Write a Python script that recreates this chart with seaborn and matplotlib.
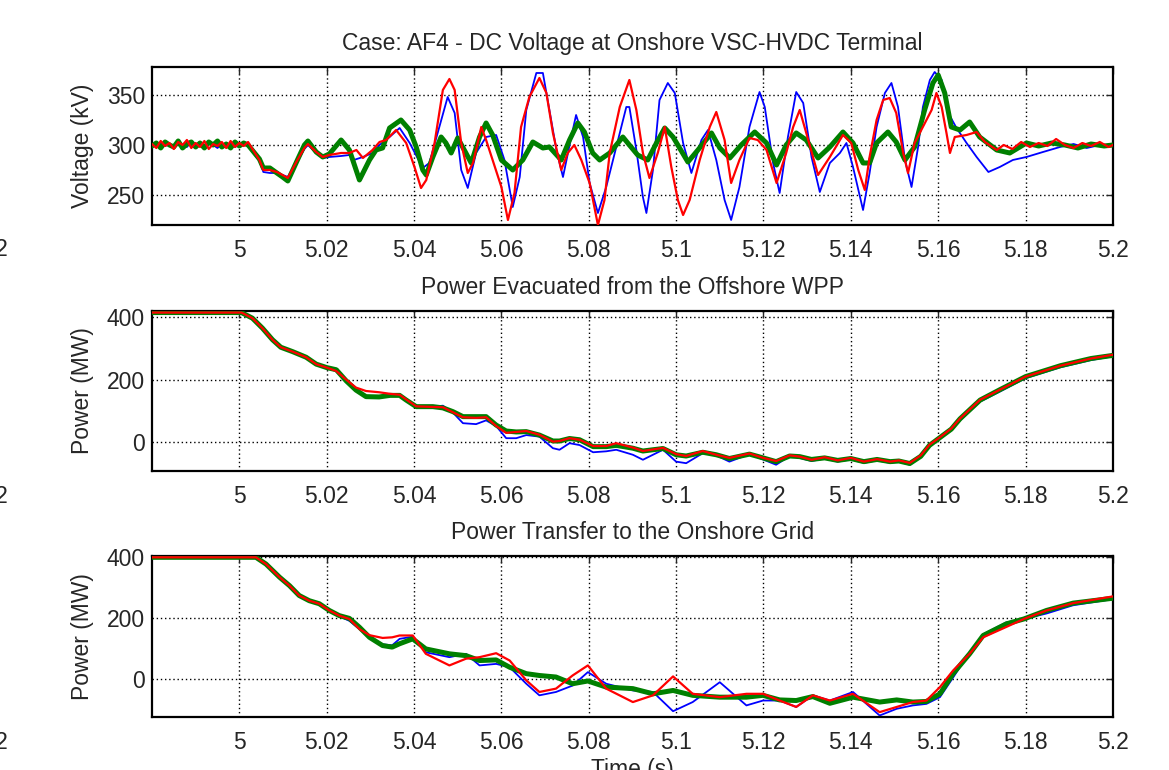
import numpy as np
import seaborn as sns
import matplotlib
matplotlib.use('Agg')
import matplotlib.pyplot as plt

# ---------- data (time s, value) ----------
# DC voltage at onshore terminal (kV)
volt_blue = [(4.980, 300), (4.981, 298), (4.982, 302), (4.983, 299), (4.984, 301), (4.985, 297), (4.986, 302),
             (4.987, 300), (4.988, 298), (4.989, 303), (4.990, 299), (4.991, 301), (4.992, 298), (4.993, 302),
             (4.994, 300), (4.995, 297), (4.996, 301), (4.997, 299), (4.998, 302), (4.999, 298), (5.000, 300),
             (5.001, 301), (5.002, 299), (5.0046, 284), (5.0055, 273), (5.0070, 272), (5.0086, 272), (5.0099, 270),
             (5.0111, 268), (5.0133, 284), (5.0149, 296), (5.0157, 300), (5.0176, 292), (5.0191, 287), (5.0206, 288),
             (5.0233, 289), (5.0252, 290), (5.0262, 285), (5.0283, 288), (5.0305, 292), (5.0321, 300), (5.0344, 308),
             (5.0367, 317), (5.0390, 302), (5.0420, 277), (5.0435, 282), (5.0458, 318), (5.0477, 348), (5.0493, 332),
             (5.0508, 275), (5.0523, 257), (5.0542, 292), (5.0565, 308), (5.0588, 310), (5.0607, 285), (5.0626, 238),
             (5.0642, 268), (5.0657, 335), (5.0680, 372), (5.0695, 372), (5.0710, 335), (5.0726, 295), (5.0741, 268),
             (5.0760, 308), (5.0771, 330), (5.0787, 308), (5.0802, 262), (5.0821, 232), (5.0840, 258), (5.0863, 298),
             (5.0886, 338), (5.0893, 338), (5.0909, 295), (5.0924, 248), (5.0932, 232), (5.0947, 275), (5.0962, 345),
             (5.0981, 362), (5.0997, 352), (5.1016, 302), (5.1035, 272), (5.1058, 305), (5.1073, 315), (5.1092, 285),
             (5.1111, 245), (5.1126, 225), (5.1145, 258), (5.1168, 318), (5.1191, 353), (5.1203, 338), (5.1222, 282),
             (5.1237, 252), (5.1256, 308), (5.1275, 353), (5.1291, 342), (5.1310, 288), (5.1329, 253), (5.1352, 282),
             (5.1375, 292), (5.1390, 302), (5.1405, 278), (5.1428, 235), (5.1443, 272), (5.1459, 318), (5.1478, 352),
             (5.1493, 362), (5.1508, 338), (5.1524, 285), (5.1539, 258), (5.1554, 298), (5.1565, 338), (5.1581, 365),
             (5.1592, 373), (5.1608, 365), (5.1623, 332), (5.1642, 317), (5.1665, 302), (5.1688, 288), (5.1715, 273),
             (5.1741, 278), (5.1771, 285), (5.1802, 288), (5.1840, 293), (5.1879, 298), (5.1910, 301), (5.1940, 297),
             (5.1970, 300), (5.2000, 299)]
volt_green = [(4.980, 299), (4.981, 302), (4.982, 297), (4.983, 303), (4.984, 300), (4.985, 298), (4.986, 304),
              (4.987, 297), (4.988, 301), (4.989, 303), (4.990, 298), (4.991, 302), (4.992, 297), (4.993, 303),
              (4.994, 300), (4.995, 304), (4.996, 298), (4.997, 301), (4.998, 297), (4.999, 303), (5.000, 299),
              (5.001, 302), (5.002, 300), (5.0046, 286), (5.0055, 277), (5.0070, 277), (5.0086, 272), (5.0099, 268),
              (5.0111, 264), (5.0133, 285), (5.0149, 300), (5.0157, 304), (5.0176, 293), (5.0191, 288), (5.0206, 291),
              (5.0233, 305), (5.0252, 295), (5.0275, 265), (5.0298, 285), (5.0313, 295), (5.0328, 297), (5.0344, 317),
              (5.0370, 325), (5.0390, 315), (5.0405, 298), (5.0420, 275), (5.0428, 270), (5.0443, 288), (5.0462, 308),
              (5.0473, 302), (5.0485, 292), (5.0500, 307), (5.0515, 295), (5.0531, 282), (5.0550, 308), (5.0565, 322),
              (5.0580, 310), (5.0600, 285), (5.0626, 275), (5.0649, 285), (5.0672, 303), (5.0695, 297), (5.0710, 298),
              (5.0737, 285), (5.0756, 305), (5.0775, 322), (5.0790, 313), (5.0809, 292), (5.0825, 285), (5.0848, 292),
              (5.0878, 308), (5.0893, 300), (5.0912, 290), (5.0935, 285), (5.0955, 302), (5.0974, 317), (5.0993, 308),
              (5.1027, 283), (5.1050, 295), (5.1081, 312), (5.1100, 297), (5.1123, 287), (5.1149, 300), (5.1180, 313),
              (5.1207, 302), (5.1230, 280), (5.1252, 300), (5.1275, 312), (5.1298, 305), (5.1325, 287), (5.1352, 298),
              (5.1382, 313), (5.1405, 302), (5.1428, 282), (5.1443, 282), (5.1459, 302), (5.1485, 313), (5.1504, 303),
              (5.1524, 285), (5.1546, 298), (5.1569, 335), (5.1588, 362), (5.1600, 370), (5.1615, 352), (5.1630, 318),
              (5.1650, 315), (5.1672, 323), (5.1695, 308), (5.1734, 295), (5.1764, 292), (5.1802, 302), (5.1830, 299),
              (5.1860, 302), (5.1890, 300), (5.1920, 297), (5.1950, 301), (5.1980, 299), (5.2000, 300)]
volt_red = [(4.980, 301), (4.981, 297), (4.982, 304), (4.983, 299), (4.984, 302), (4.985, 296), (4.986, 303),
            (4.987, 300), (4.988, 305), (4.989, 297), (4.990, 302), (4.991, 298), (4.992, 304), (4.993, 296),
            (4.994, 301), (4.995, 299), (4.996, 303), (4.997, 297), (4.998, 304), (4.999, 298), (5.000, 302),
            (5.001, 299), (5.002, 303), (5.0046, 285), (5.0055, 275), (5.0070, 275), (5.0086, 273), (5.0099, 270),
            (5.0111, 267), (5.0133, 285), (5.0149, 297), (5.0157, 301), (5.0176, 293), (5.0191, 288), (5.0206, 290),
            (5.0233, 292), (5.0252, 292), (5.0268, 295), (5.0283, 287), (5.0305, 295), (5.0321, 303), (5.0336, 305),
            (5.0359, 315), (5.0382, 302), (5.0401, 278), (5.0416, 257), (5.0428, 265), (5.0447, 302), (5.0466, 355),
            (5.0481, 366), (5.0493, 355), (5.0508, 302), (5.0523, 272), (5.0535, 282), (5.0554, 318), (5.0565, 305),
            (5.0580, 285), (5.0600, 258), (5.0615, 225), (5.0630, 252), (5.0645, 318), (5.0664, 348), (5.0687, 367),
            (5.0703, 352), (5.0718, 312), (5.0737, 275), (5.0752, 292), (5.0767, 300), (5.0783, 285), (5.0802, 262),
            (5.0821, 220), (5.0836, 245), (5.0848, 292), (5.0871, 338), (5.0893, 365), (5.0909, 335), (5.0924, 292),
            (5.0939, 267), (5.0958, 292), (5.0974, 318), (5.0989, 278), (5.1004, 245), (5.1016, 230), (5.1031, 245),
            (5.1054, 285), (5.1077, 318), (5.1092, 333), (5.1111, 305), (5.1126, 262), (5.1145, 285), (5.1168, 307),
            (5.1187, 305), (5.1207, 295), (5.1230, 262), (5.1252, 292), (5.1268, 318), (5.1283, 335), (5.1298, 312),
            (5.1325, 270), (5.1352, 288), (5.1382, 310), (5.1401, 302), (5.1417, 275), (5.1432, 255), (5.1443, 288),
            (5.1459, 325), (5.1474, 345), (5.1489, 347), (5.1504, 332), (5.1520, 292), (5.1531, 272), (5.1546, 302),
            (5.1565, 318), (5.1585, 335), (5.1596, 352), (5.1608, 338), (5.1619, 312), (5.1627, 292), (5.1638, 308),
            (5.1665, 310), (5.1688, 313), (5.1707, 303), (5.1734, 295), (5.1750, 300), (5.1770, 296), (5.1790, 303),
            (5.1810, 298), (5.1830, 302), (5.1850, 299), (5.1870, 306), (5.1890, 300), (5.1910, 297), (5.1930, 302),
            (5.1950, 299), (5.1970, 303), (5.1990, 298), (5.2000, 300)]

# power evacuated from the offshore WPP (MW)
evac_blue = [(4.980, 415), (5.0005, 415), (5.0030, 397), (5.0053, 365), (5.0076, 328), (5.0095, 304), (5.0122, 290),
             (5.0153, 272), (5.0176, 250), (5.0200, 238), (5.0222, 228), (5.0245, 194), (5.0267, 168), (5.0290, 146),
             (5.0320, 146), (5.0345, 150), (5.0367, 150), (5.0382, 134), (5.0405, 113), (5.0443, 114), (5.0466, 117),
             (5.0489, 95), (5.0512, 61), (5.0542, 58), (5.0565, 70), (5.0588, 52), (5.0611, 13), (5.0634, 13),
             (5.0657, 23), (5.0687, 18), (5.0718, -19), (5.0733, -24), (5.0756, -3), (5.0779, -9), (5.0810, -32),
             (5.0840, -29), (5.0863, -24), (5.0901, -40), (5.0924, -56), (5.0970, -24), (5.1000, -62), (5.1023, -67),
             (5.1061, -35), (5.1092, -42), (5.1122, -62), (5.1168, -38), (5.1199, -55), (5.1229, -72), (5.1260, -44),
             (5.1283, -50), (5.1310, -60), (5.1340, -52), (5.1370, -62), (5.1400, -55), (5.1430, -66), (5.1460, -58),
             (5.1490, -66), (5.1510, -62), (5.1535, -72), (5.1560, -48), (5.1580, -12), (5.1604, 12), (5.1630, 38),
             (5.1650, 70), (5.1696, 130), (5.1741, 162), (5.1800, 205), (5.1880, 240), (5.1950, 263), (5.2000, 275)]
evac_green = [(4.980, 415), (5.0005, 415), (5.0030, 397), (5.0053, 365), (5.0076, 328), (5.0095, 304), (5.0122, 290),
              (5.0153, 272), (5.0176, 250), (5.0200, 239), (5.0222, 232), (5.0245, 196), (5.0267, 167), (5.0290, 146),
              (5.0320, 145), (5.0345, 150), (5.0367, 150), (5.0382, 135), (5.0405, 114), (5.0443, 114), (5.0466, 110),
              (5.0489, 98), (5.0512, 82), (5.0542, 82), (5.0565, 82), (5.0588, 55), (5.0611, 36), (5.0634, 33),
              (5.0657, 34), (5.0687, 23), (5.0718, 4), (5.0733, 4), (5.0756, 12), (5.0779, 8), (5.0810, -14),
              (5.0840, -14), (5.0863, -10), (5.0901, -19), (5.0924, -28), (5.0970, -20), (5.1000, -40), (5.1023, -44),
              (5.1061, -32), (5.1092, -40), (5.1122, -52), (5.1168, -38), (5.1199, -50), (5.1229, -62), (5.1260, -44),
              (5.1283, -46), (5.1310, -55), (5.1340, -50), (5.1370, -58), (5.1400, -52), (5.1430, -62), (5.1460, -55),
              (5.1490, -62), (5.1510, -60), (5.1535, -68), (5.1560, -45), (5.1580, -10), (5.1604, 15), (5.1630, 42),
              (5.1650, 75), (5.1696, 135), (5.1741, 168), (5.1800, 210), (5.1880, 245), (5.1950, 268), (5.2000, 278)]
evac_red = [(4.980, 415), (5.0005, 415), (5.0030, 397), (5.0053, 365), (5.0076, 328), (5.0095, 304), (5.0122, 290),
            (5.0153, 272), (5.0176, 250), (5.0200, 239), (5.0222, 228), (5.0245, 200), (5.0267, 175), (5.0290, 164),
            (5.0320, 160), (5.0345, 155), (5.0367, 152), (5.0382, 137), (5.0405, 115), (5.0443, 113), (5.0466, 112),
            (5.0489, 96), (5.0512, 80), (5.0542, 78), (5.0565, 80), (5.0588, 52), (5.0611, 30), (5.0634, 33),
            (5.0657, 36), (5.0687, 24), (5.0718, 2), (5.0733, 4), (5.0756, 13), (5.0779, 8), (5.0810, -12),
            (5.0840, -12), (5.0863, -3), (5.0901, -17), (5.0924, -28), (5.0970, -18), (5.1000, -38), (5.1023, -44),
            (5.1061, -28), (5.1092, -40), (5.1122, -50), (5.1168, -36), (5.1199, -50), (5.1229, -60), (5.1260, -42),
            (5.1283, -46), (5.1310, -56), (5.1340, -48), (5.1370, -58), (5.1400, -50), (5.1430, -62), (5.1460, -54),
            (5.1490, -62), (5.1510, -58), (5.1535, -66), (5.1560, -42), (5.1580, -8), (5.1604, 16), (5.1630, 44),
            (5.1650, 76), (5.1696, 136), (5.1741, 168), (5.1800, 210), (5.1880, 245), (5.1950, 268), (5.2000, 280)]

# power transfer to the onshore grid (MW)
grid_blue = [(4.980, 400), (5.0038, 400), (5.0061, 378), (5.0092, 335), (5.0115, 307), (5.0137, 275), (5.0160, 256),
             (5.0183, 246), (5.0206, 224), (5.0229, 207), (5.0252, 192), (5.0275, 165), (5.0298, 140), (5.0328, 115),
             (5.0350, 112), (5.0367, 133), (5.0397, 140), (5.0427, 89), (5.0481, 73), (5.0519, 84), (5.0550, 46),
             (5.0588, 51), (5.0619, 40), (5.0657, -14), (5.0687, -52), (5.0725, -41), (5.0763, -20), (5.0798, 24),
             (5.0840, -14), (5.0901, -36), (5.0947, -41), (5.0993, -104), (5.1038, -74), (5.1100, -9), (5.1161, -85),
             (5.1199, -69), (5.1237, -69), (5.1275, -90), (5.1313, -52), (5.1352, -69), (5.1405, -41), (5.1466, -118),
             (5.1505, -96), (5.1542, -85), (5.1573, -80), (5.1604, -58), (5.1634, 6), (5.1672, 89), (5.1703, 148),
             (5.1756, 187), (5.1796, 198), (5.1848, 216), (5.1909, 243), (5.2000, 263)]
grid_green = [(4.980, 400), (5.0038, 400), (5.0061, 378), (5.0092, 335), (5.0115, 307), (5.0137, 275), (5.0160, 258),
              (5.0183, 248), (5.0206, 226), (5.0229, 209), (5.0252, 200), (5.0275, 171), (5.0298, 138), (5.0328, 111),
              (5.0350, 106), (5.0367, 117), (5.0397, 133), (5.0427, 100), (5.0481, 84), (5.0519, 78), (5.0550, 62),
              (5.0588, 64), (5.0619, 40), (5.0657, 19), (5.0687, 13), (5.0725, 8), (5.0763, -14), (5.0798, -5),
              (5.0840, -25), (5.0901, -30), (5.0947, -47), (5.0993, -36), (5.1038, -52), (5.1100, -58), (5.1161, -58),
              (5.1199, -52), (5.1237, -67), (5.1275, -69), (5.1313, -56), (5.1352, -78), (5.1405, -58), (5.1466, -74),
              (5.1505, -67), (5.1542, -74), (5.1573, -72), (5.1604, -47), (5.1634, 19), (5.1672, 84), (5.1703, 144),
              (5.1756, 182), (5.1796, 198), (5.1848, 226), (5.1909, 250), (5.2000, 266)]
grid_red = [(4.980, 400), (5.0038, 400), (5.0061, 378), (5.0092, 335), (5.0115, 307), (5.0137, 275), (5.0160, 258),
            (5.0183, 248), (5.0206, 226), (5.0229, 209), (5.0252, 198), (5.0275, 165), (5.0298, 145), (5.0328, 136),
            (5.0350, 138), (5.0367, 144), (5.0397, 144), (5.0427, 84), (5.0481, 46), (5.0519, 68), (5.0550, 73),
            (5.0588, 86), (5.0619, 62), (5.0657, -3), (5.0687, -41), (5.0725, -30), (5.0763, 13), (5.0798, 46),
            (5.0840, -30), (5.0901, -74), (5.0947, -52), (5.0993, 10), (5.1038, -47), (5.1100, -58), (5.1161, -47),
            (5.1199, -47), (5.1237, -69), (5.1275, -90), (5.1313, -52), (5.1352, -69), (5.1405, -47), (5.1466, -107),
            (5.1505, -90), (5.1542, -74), (5.1573, -69), (5.1604, -25), (5.1634, 29), (5.1672, 84), (5.1703, 138),
            (5.1756, 172), (5.1796, 198), (5.1848, 226), (5.1909, 250), (5.2000, 272)]

x_ticks = [5.0, 5.02, 5.04, 5.06, 5.08, 5.10, 5.12, 5.14, 5.16, 5.18, 5.20]
x_labels = ['5', '5.02', '5.04', '5.06', '5.08', '5.1', '5.12', '5.14', '5.16', '5.18', '5.2']

panels = [
    dict(series=(volt_blue, volt_green, volt_red), title='Case: AF4 - DC Voltage at Onshore VSC-HVDC Terminal',
         ylabel='Voltage (kV)', yticks=[250, 300, 350], ylim=(220, 378), rect=[0.130, 0.7078, 0.822, 0.2052]),
    dict(series=(evac_blue, evac_green, evac_red), title='Power Evacuated from the Offshore WPP',
         ylabel='Power (MW)', yticks=[0, 200, 400], ylim=(-92, 420), rect=[0.130, 0.3883, 0.822, 0.2078]),
    dict(series=(grid_blue, grid_green, grid_red), title='Power Transfer to the Onshore Grid',
         ylabel='Power (MW)', yticks=[0, 200, 400], ylim=(-123, 404), rect=[0.130, 0.0688, 0.822, 0.2090]),
]

# ---------- style ----------
sns.set_style('white')
plt.rcParams['font.family'] = ['Liberation Sans', 'DejaVu Sans']
FS = 16.5

line_styles = [('#0000ff', 1.3, 2), ('#008000', 3.6, 3), ('#ff0000', 1.6, 4)]  # blue, green, red

fig = plt.figure(figsize=(11.69, 7.70), dpi=100)

for i, p in enumerate(panels):
    ax = fig.add_axes(p['rect'])
    for data, (col, lw, z) in zip(p['series'], line_styles):
        t, v = zip(*data)
        sns.lineplot(x=list(t), y=list(v), color=col, linewidth=lw, zorder=z,
                     estimator=None, sort=False, ax=ax)
    ax.set_xlim(4.98, 5.2)
    ax.set_ylim(*p['ylim'])
    ax.set_xticks(x_ticks)
    ax.set_xticklabels(x_labels)
    ax.set_yticks(p['yticks'])
    ax.grid(True, color='black', linestyle=(0, (1, 2)), linewidth=1.0)
    ax.tick_params(direction='in', top=True, right=True, length=5, width=1, labelsize=FS)
    ax.tick_params(axis='x', pad=10)
    ax.tick_params(axis='y', pad=5)
    for s in ax.spines.values():
        s.set_linewidth(1.6)
        s.set_color('black')
    ax.set_title(p['title'], fontsize=FS, pad=12)
    ax.set_ylabel(p['ylabel'], fontsize=FS, labelpad=9)
    # stray clipped tick label at the far left edge
    fig.text(8 / 1169, p['rect'][1] - 25 / 770, '5.2', ha='right', va='center', fontsize=FS)
    if i == 2:
        ax.set_xlabel('Time (s)', fontsize=FS, labelpad=3)

fig.savefig('out.png', dpi=100)
